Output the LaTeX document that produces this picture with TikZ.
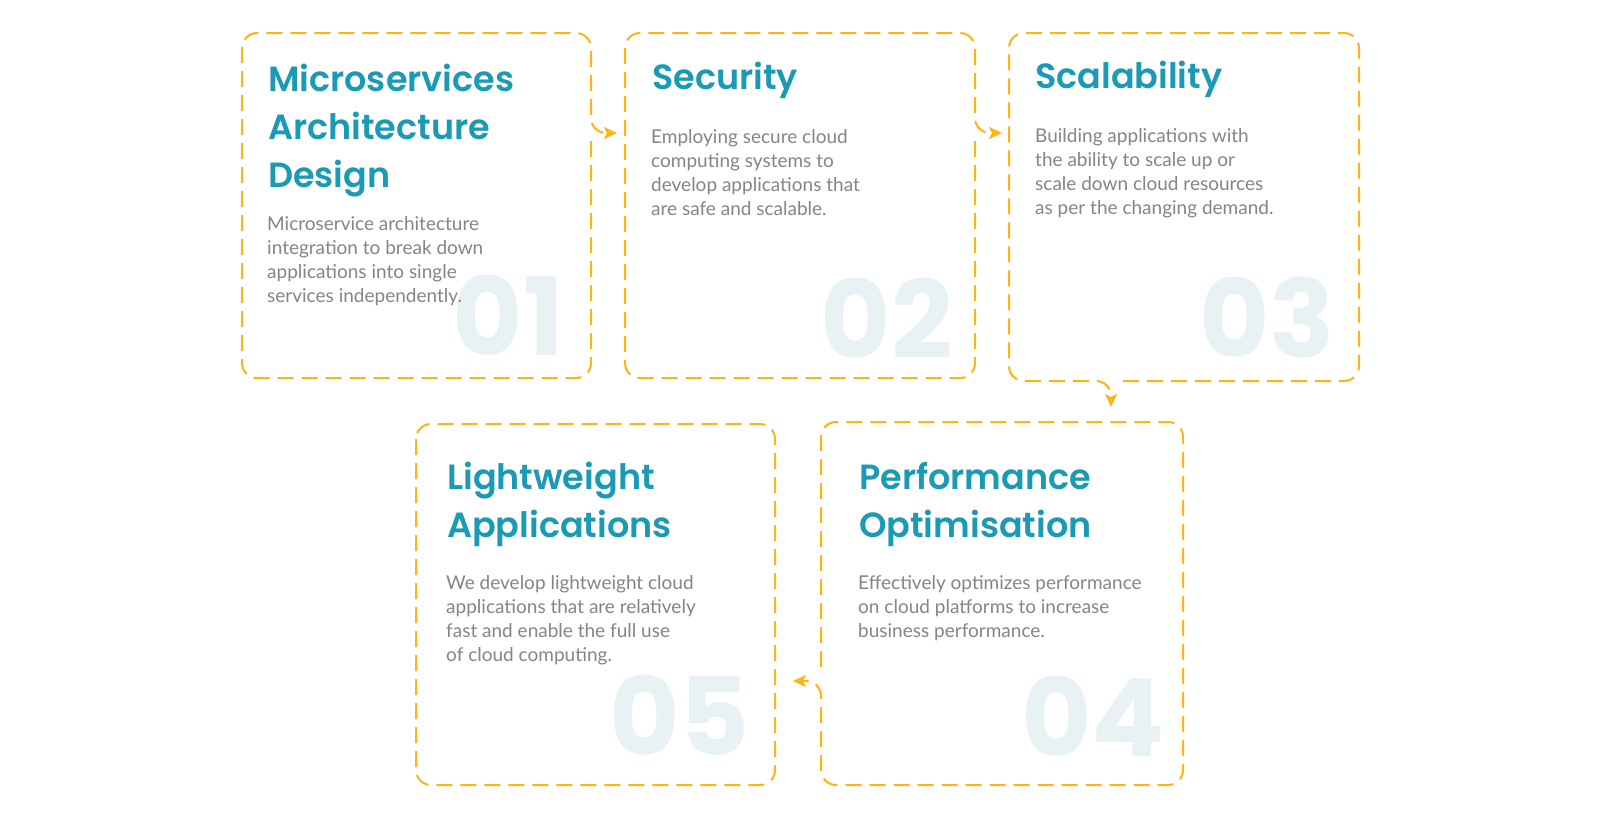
\documentclass[tikz,border=0pt]{standalone}
\usepackage{fontspec}
\setmainfont{Lato}
\newfontfamily\numfont{Poppins}
\newfontfamily\headfont{Poppins SemiBold}
\usetikzlibrary{calc,arrows.meta,positioning}

\definecolor{cardgold}{HTML}{FDB515}
\definecolor{cardteal}{HTML}{1A9AB5}
\definecolor{cardgray}{HTML}{858585}
\definecolor{cardnum}{HTML}{E8F2F4}

\tikzset{
  card/.style={rectangle,inner sep=0pt,outer sep=0pt},
  border/.style={draw=cardgold,line width=2pt,dash pattern=on 16pt off 8pt,rounded corners=15pt},
  flow/.style={-{Stealth[length=13pt,width=12pt,inset=3pt]}},
  title/.style={inner sep=0pt,align=left,text=cardteal,font=\headfont\fontsize{35}{48}\selectfont},
  body/.style={inner sep=0pt,align=left,text=cardgray,font=\fontsize{19}{23.7}\selectfont},
  num/.style={inner sep=0pt,text=cardnum,font=\numfont\fontsize{108}{108}\selectfont\bfseries}
}

\begin{document}
\begin{tikzpicture}[x=1pt,y=-1pt]
  \fill[white] (0,0) rectangle (1600,817);
  \useasboundingbox (0,0) rectangle (1600,817);

  \node[card,minimum width=349pt,minimum height=345pt] (b1) at (416.5,205.5) {};
  \node[card,minimum width=350pt,minimum height=345pt] (b2) at (800,205.5) {};
  \node[card,minimum width=350pt,minimum height=348pt] (b3) at (1184,207) {};
  \node[card,minimum width=362pt,minimum height=363pt] (b4) at (1002,603.5) {};
  \node[card,minimum width=359pt,minimum height=361pt] (b5) at (595.5,604.5) {};

  % big numbers behind the text
  \node[num,anchor=base east] (n1) at ($(b1.south east)+(-27,-23)$) {01};
  \node[num,anchor=base east] (n2) at ($(b2.south east)+(-22,-20)$) {02};
  \node[num,anchor=base east] (n3) at ($(b3.south east)+(-24,-24)$) {03};
  \node[num,anchor=base east] (n4) at ($(b4.south east)+(-18,-29)$) {04};
  \node[num,anchor=base east] (n5) at ($(b5.south east)+(-25,-30)$) {05};

  \node[title,anchor=base west] (t1) at ($(b1.north west)+(26,154)$) {Microservices\\Architecture\\Design};
  \node[body,anchor=base west] (d1) at ($(b1.north west)+(25,269)$) {Microservice architecture\\integration to break down\\applications into single\\services independently.};
  \node[title,anchor=base west] (t2) at ($(b2.north west)+(27,56)$) {Security};
  \node[body,anchor=base west] (d2) at ($(b2.north west)+(26,182)$) {Employing secure cloud\\computing systems to\\develop applications that\\are safe and scalable.};
  \node[title,anchor=base west] (t3) at ($(b3.north west)+(26,55)$) {Scalability};
  \node[body,anchor=base west] (d3) at ($(b3.north west)+(26,181)$) {Building applications with\\the ability to scale up or\\scale down cloud resources\\as per the changing demand.};
  \node[title,anchor=base west] (t4) at ($(b4.north west)+(38,115)$) {Performance\\Optimisation};
  \node[body,anchor=base west] (d4) at ($(b4.north west)+(37,215)$) {Effectively optimizes performance\\on cloud platforms to increase\\business performance.};
  \node[title,anchor=base west] (t5) at ($(b5.north west)+(31,113)$) {Lightweight\\Applications};
  \node[body,anchor=base west] (d5) at ($(b5.north west)+(30,237)$) {We develop lightweight cloud\\applications that are relatively\\fast and enable the full use\\of cloud computing.};

  % borders, each one bending out into the next card
  \draw[border,flow] ($(b1.north east)+(0,108)$) -- (b1.south east) -- (b1.south west) -- (b1.north west) -- (b1.north east) -- ($(b1.north east)+(0,100)$) -- ($(b2.north west)+(-8,100)$);
  \draw[border,flow] ($(b2.north east)+(0,108)$) -- (b2.south east) -- (b2.south west) -- (b2.north west) -- (b2.north east) -- ($(b2.north east)+(0,100)$) -- ($(b3.north west)+(-7,100)$);
  \draw[border,flow] ($(b3.south west)+(114,0)$) -- (b3.south east) -- (b3.north east) -- (b3.north west) -- (b3.south west) -- ($(b3.south west)+(102,0)$) -- ($(b4.north west)+(290,-15)$);
  \draw[border,flow] ($(b4.north west)+(0,245)$) -- (b4.north west) -- (b4.north east) -- (b4.south east) -- (b4.south west) -- ($(b4.north west)+(0,259)$) -- ($(b5.north east)+(18,257)$);
  \draw[border] (b5.north west) rectangle (b5.south east);
\end{tikzpicture}
\end{document}
